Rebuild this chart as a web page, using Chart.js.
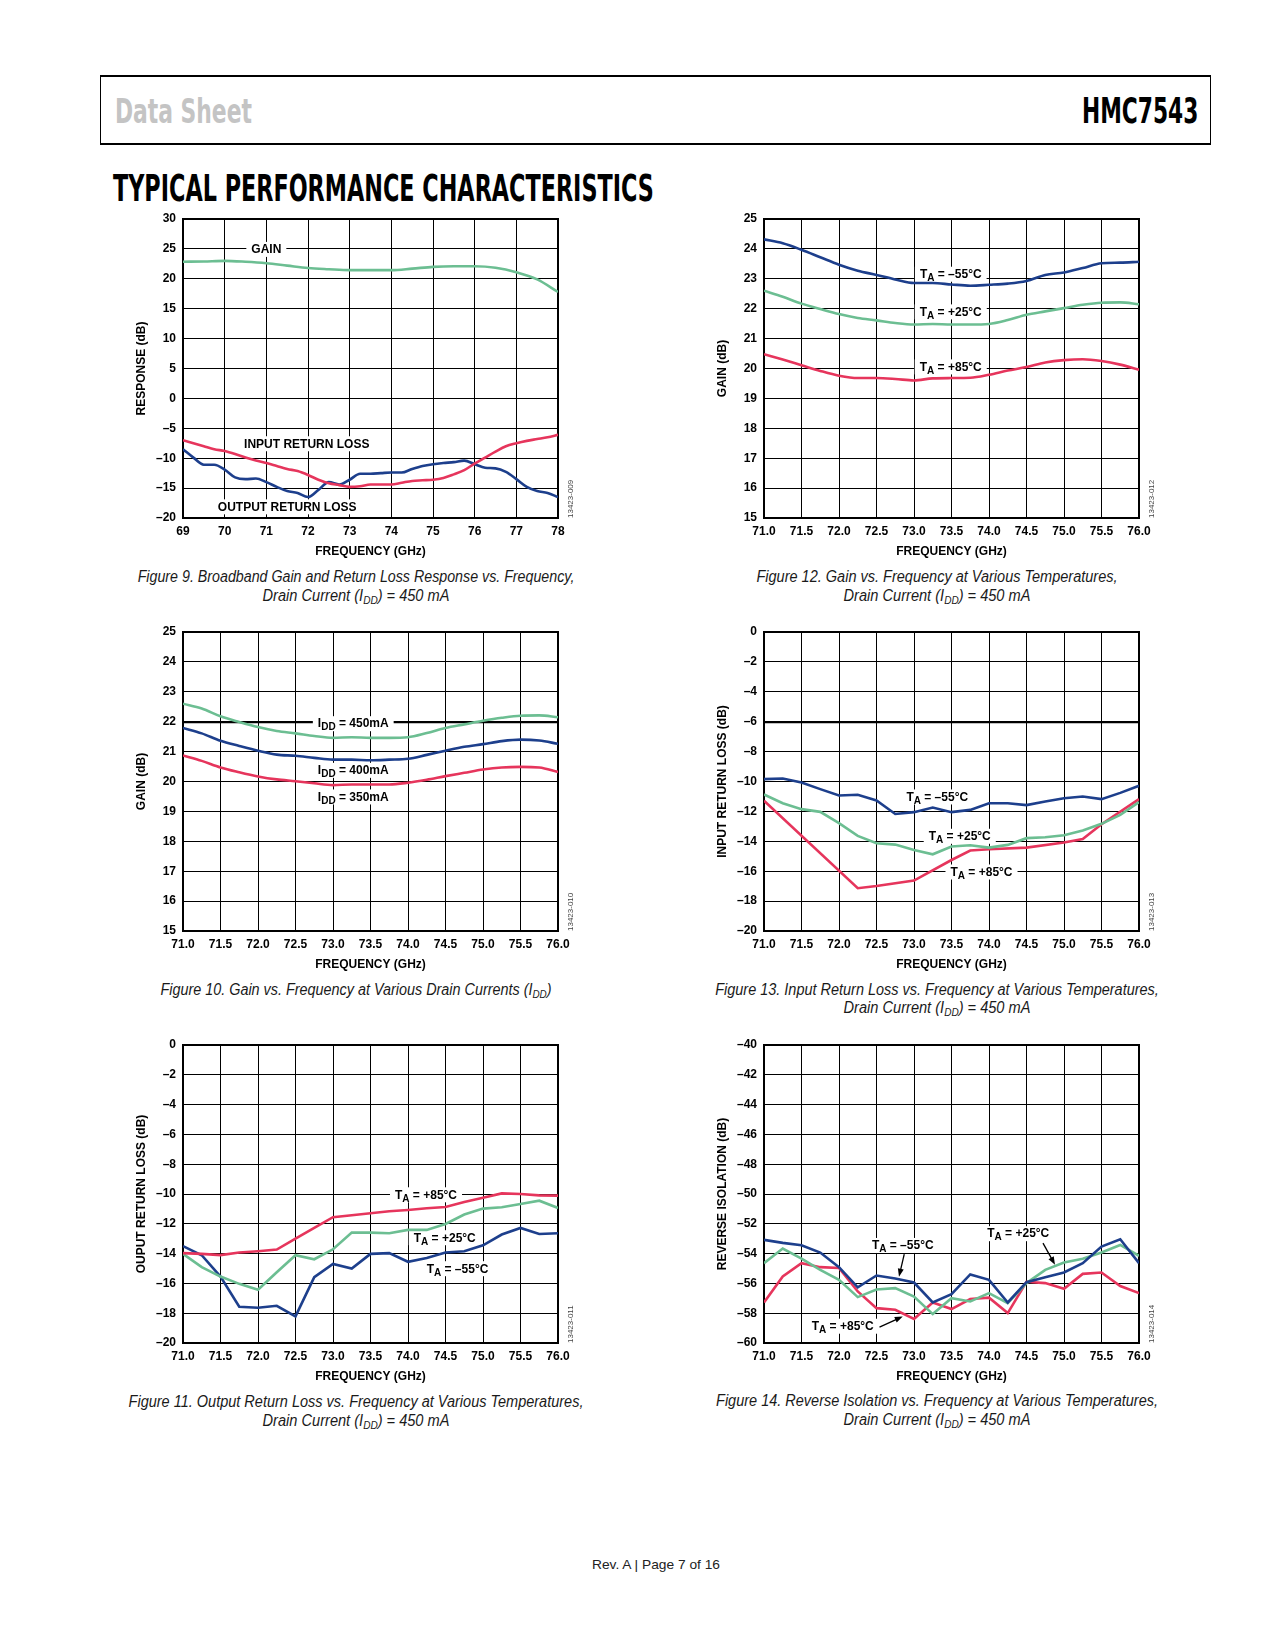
<!DOCTYPE html>
<html>
<head>
<meta charset="utf-8">
<script src="https://cdn.jsdelivr.net/npm/chart.js@4.4.1/dist/chart.umd.min.js"></script>
<style>
body { margin: 0; background: #fff; }
#page { position: relative; width: 1275px; height: 1650px; overflow: hidden; font-family: "Liberation Sans", Arial, sans-serif; }
.abs { position: absolute; white-space: nowrap; line-height: 1; }
canvas { position: absolute; }
#hbox { position: absolute; box-sizing: border-box; left: 100px; top: 75px; width: 1111px; height: 70px;
        border-top: 2px solid #000; border-bottom: 2px solid #000; border-left: 1.5px solid #000; border-right: 1.5px solid #000; }
.head { font-family: "Liberation Sans Narrow", "DejaVu Sans Condensed", "Liberation Sans", sans-serif; font-weight: bold; }
.cap { font-style: italic; font-size: 16px; color: #1a1a1a; }
.cap sub { font-size: 11px; vertical-align: -3px; line-height: 0; }
</style>
</head>
<body>
<div id="page">
  <div id="hbox"></div>
  <div class="abs head" id="hLeft" style="font-size:34px;color:#c4c4c4">Data Sheet</div>
  <div class="abs head" id="hRight" style="font-size:35px;color:#000">HMC7543</div>
  <div class="abs head" id="hTitle" style="font-size:38px;color:#000">TYPICAL PERFORMANCE CHARACTERISTICS</div>
  <div class="abs" id="footer" style="font-size:13px;color:#222">Rev. A | Page 7 of 16</div>
</div>
<script>
const GREEN = '#6cbe92', BLUE = '#1d3f8c', RED = '#e6355c';

// ---- Figure 9: broadband gain / return loss
const fig9XTicks = [69, 70, 71, 72, 73, 74, 75, 76, 77, 78];
const fig9YTicks = [-20, -15, -10, -5, 0, 5, 10, 15, 20, 25, 30];
const fig9Freq = [69, 69.5, 70, 70.5, 71, 71.5, 72, 72.5, 73, 73.5, 74, 74.5, 75, 75.5, 76, 76.5, 77, 77.5, 78];
const fig9Gain = [22.85, 22.9, 23.0, 22.85, 22.6, 22.2, 21.8, 21.6, 21.45, 21.45, 21.45, 21.7, 22.0, 22.1, 22.1, 21.85, 21.1, 19.9, 17.8];
const fig9FreqFine = [69, 69.25, 69.5, 69.75, 70, 70.25, 70.5, 70.75, 71, 71.25, 71.5, 71.75, 72, 72.25, 72.5, 72.75,
  73, 73.25, 73.5, 73.75, 74, 74.25, 74.5, 74.75, 75, 75.25, 75.5, 75.75, 76, 76.25, 76.5, 76.75, 77, 77.25, 77.5, 77.75, 78];
const fig9InputRL = [-7.0, -7.5, -8.0, -8.5, -8.8, -9.3, -9.9, -10.4, -10.8, -11.3, -11.8, -12.15, -12.8, -13.6, -14.2, -14.5,
  -14.8, -14.7, -14.4, -14.4, -14.4, -14.1, -13.8, -13.7, -13.6, -13.3, -12.7, -12.0, -10.9, -9.9, -8.9, -8.0, -7.5, -7.1, -6.8, -6.5, -6.1];
const fig9OutputRL = [-8.5, -9.9, -11.1, -11.1, -11.9, -13.2, -13.5, -13.4, -14.0, -14.8, -15.5, -15.8, -16.5, -15.3, -14.0, -14.4,
  -13.6, -12.6, -12.6, -12.5, -12.4, -12.4, -11.8, -11.3, -11.0, -10.8, -10.65, -10.4, -11.0, -11.6, -11.7, -12.3, -13.5, -14.8, -15.5, -15.8, -16.5];

// ---- shared 71 GHz to 76 GHz sweeps
const tempXTicks = [71, 71.5, 72, 72.5, 73, 73.5, 74, 74.5, 75, 75.5, 76];
const tempFreq = [71, 71.25, 71.5, 71.75, 72, 72.25, 72.5, 72.75, 73, 73.25, 73.5, 73.75, 74, 74.25, 74.5, 74.75, 75, 75.25, 75.5, 75.75, 76];
const gainYTicks = [15, 16, 17, 18, 19, 20, 21, 22, 23, 24, 25];
const rlYTicks = [-20, -18, -16, -14, -12, -10, -8, -6, -4, -2, 0];
const isoYTicks = [-60, -58, -56, -54, -52, -50, -48, -46, -44, -42, -40];

// Figure 12: gain vs temperature
const fig12Cold = [24.32, 24.19, 23.97, 23.72, 23.47, 23.27, 23.13, 22.98, 22.86, 22.86, 22.81, 22.77, 22.80, 22.84, 22.93, 23.13, 23.21, 23.36, 23.52, 23.54, 23.57];
const fig12Room = [22.60, 22.40, 22.17, 21.99, 21.82, 21.69, 21.61, 21.52, 21.47, 21.49, 21.47, 21.47, 21.49, 21.62, 21.80, 21.91, 22.02, 22.13, 22.20, 22.21, 22.15];
const fig12Hot = [20.48, 20.30, 20.11, 19.92, 19.76, 19.68, 19.68, 19.65, 19.60, 19.67, 19.68, 19.69, 19.79, 19.93, 20.05, 20.20, 20.28, 20.31, 20.25, 20.13, 19.96];

// Figure 10: gain vs drain current
const fig10I450 = [22.60, 22.44, 22.18, 21.99, 21.82, 21.69, 21.61, 21.52, 21.46, 21.48, 21.46, 21.46, 21.48, 21.62, 21.79, 21.91, 22.03, 22.13, 22.20, 22.21, 22.15];
const fig10I400 = [21.79, 21.61, 21.36, 21.19, 21.03, 20.90, 20.86, 20.79, 20.73, 20.73, 20.71, 20.73, 20.76, 20.89, 21.03, 21.16, 21.25, 21.35, 21.40, 21.37, 21.26];
const fig10I350 = [20.87, 20.69, 20.47, 20.31, 20.17, 20.07, 20.01, 19.94, 19.88, 19.90, 19.90, 19.90, 19.96, 20.06, 20.18, 20.29, 20.40, 20.47, 20.49, 20.47, 20.32];

// Figure 13: input return loss vs temperature
const fig13Cold = [-9.84, -9.80, -10.07, -10.51, -10.94, -10.89, -11.27, -12.17, -12.05, -11.74, -12.05, -11.90, -11.45, -11.45, -11.58, -11.34, -11.12, -11.00, -11.18, -10.76, -10.29];
const fig13Room = [-10.87, -11.45, -11.85, -12.03, -12.79, -13.64, -14.13, -14.22, -14.58, -14.87, -14.35, -14.26, -14.42, -14.24, -13.79, -13.73, -13.59, -13.28, -12.83, -12.23, -11.38];
const fig13HotFreq = [71.0, 72.25, 72.5, 73.0, 73.5, 73.75, 74.0, 74.5, 75.0, 75.25, 75.5, 76.0];
const fig13Hot = [-11.29, -17.14, -16.99, -16.63, -15.25, -14.62, -14.53, -14.42, -14.08, -13.84, -12.86, -11.18];

// Figure 11: output return loss vs temperature
const fig11Hot = [-13.97, -14.02, -14.10, -13.93, -13.84, -13.73, -12.99, -12.28, -11.56, -11.43, -11.29, -11.16, -11.07, -10.96, -10.87, -10.54, -10.25, -9.96, -10.00, -10.09, -10.11];
const fig11Room = [-14.02, -14.91, -15.54, -16.03, -16.43, -15.25, -14.11, -14.38, -13.71, -12.59, -12.59, -12.63, -12.41, -12.41, -12.01, -11.38, -10.98, -10.89, -10.67, -10.45, -10.94];
const fig11Cold = [-13.50, -14.11, -15.54, -17.57, -17.63, -17.50, -18.21, -15.58, -14.69, -15.00, -14.02, -13.97, -14.55, -14.29, -13.93, -13.84, -13.44, -12.72, -12.28, -12.68, -12.63];

// Figure 14: reverse isolation vs temperature
const fig14Cold = [-53.08, -53.28, -53.44, -53.93, -54.91, -56.27, -55.47, -55.67, -55.94, -57.28, -56.72, -55.40, -55.76, -57.28, -55.92, -55.58, -55.27, -54.64, -53.53, -53.04, -54.64];
const fig14Room = [-54.64, -53.66, -54.33, -55.09, -55.76, -56.92, -56.41, -56.32, -56.88, -58.06, -56.99, -57.21, -56.65, -57.32, -55.98, -55.09, -54.60, -54.35, -53.93, -53.42, -54.15];
const fig14Hot = [-57.28, -55.54, -54.64, -54.91, -54.96, -56.54, -57.66, -57.77, -58.39, -57.28, -57.72, -57.05, -56.96, -57.99, -55.89, -55.98, -56.36, -55.36, -55.27, -56.18, -56.65];

Chart.defaults.font.family = '"Liberation Sans", Arial, sans-serif';

const page = document.getElementById('page');
const LH = 14.4;

function dashNum(v) {
    return v < 0 ? '\u2013' + Math.abs(v) : String(v);
}

function splitNote(text) {
    // "T_{A} = ..." -> parts with subscript flag
    const parts = [];
    const re = /_\{([^}]*)\}/g;
    let last = 0, m;
    while ((m = re.exec(text)) !== null) {
        if (m.index > last) parts.push({ t: text.slice(last, m.index), sub: false });
        parts.push({ t: m[1], sub: true });
        last = re.lastIndex;
    }
    if (last < text.length) parts.push({ t: text.slice(last), sub: false });
    return parts;
}

const MAIN_FONT = 'bold 12px "Liberation Sans", Arial, sans-serif';
const SUB_FONT = 'bold 10px "Liberation Sans", Arial, sans-serif';

function noteWidth(ctx, parts) {
    let w = 0;
    parts.forEach(p => {
        ctx.font = p.sub ? SUB_FONT : MAIN_FONT;
        w += ctx.measureText(p.t).width;
    });
    return w;
}

const notesPlugin = {
    id: 'notes',
    beforeDatasetsDraw(chart, args, opts) {
        const { ctx, chartArea: a, scales } = chart;
        ctx.save();
        ctx.lineWidth = 2;
        ctx.strokeStyle = '#000';
        ctx.strokeRect(a.left, a.top, a.right - a.left, a.bottom - a.top);
        ctx.fillStyle = '#fff';
        (opts.notes || []).forEach(n => {
            const parts = splitNote(n.t);
            const w = noteWidth(ctx, parts);
            const px = scales.x.getPixelForValue(n.x);
            const py = scales.y.getPixelForValue(n.y);
            ctx.fillRect(px - w / 2 - 5, py - 7, w + 10, 15);
        });
        ctx.restore();
    },
    afterDatasetsDraw(chart, args, opts) {
        const { ctx, chartArea: a, scales } = chart;
        ctx.save();
        ctx.fillStyle = '#000';
        ctx.textBaseline = 'alphabetic';
        ctx.textAlign = 'left';
        (opts.notes || []).forEach(n => {
            const parts = splitNote(n.t);
            const w = noteWidth(ctx, parts);
            let px = scales.x.getPixelForValue(n.x) - w / 2;
            const py = scales.y.getPixelForValue(n.y) + 4.3;
            parts.forEach(p => {
                ctx.font = p.sub ? SUB_FONT : MAIN_FONT;
                ctx.fillText(p.t, px, p.sub ? py + 3 : py);
                px += ctx.measureText(p.t).width;
            });
        });
        (opts.arrows || []).forEach(r => {
            const x1 = scales.x.getPixelForValue(r[0]), y1 = scales.y.getPixelForValue(r[1]);
            const x2 = scales.x.getPixelForValue(r[2]), y2 = scales.y.getPixelForValue(r[3]);
            const ang = Math.atan2(y2 - y1, x2 - x1);
            ctx.strokeStyle = '#000';
            ctx.lineWidth = 1.3;
            ctx.beginPath();
            ctx.moveTo(x1, y1);
            ctx.lineTo(x2 - 5 * Math.cos(ang), y2 - 5 * Math.sin(ang));
            ctx.stroke();
            ctx.beginPath();
            ctx.moveTo(x2, y2);
            ctx.lineTo(x2 - 8 * Math.cos(ang) + 3 * Math.sin(ang), y2 - 8 * Math.sin(ang) - 3 * Math.cos(ang));
            ctx.lineTo(x2 - 8 * Math.cos(ang) - 3 * Math.sin(ang), y2 - 8 * Math.sin(ang) + 3 * Math.cos(ang));
            ctx.closePath();
            ctx.fill();
        });
        if (opts.code) {
            ctx.translate(a.right + 13, a.bottom);
            ctx.rotate(-Math.PI / 2);
            ctx.font = '8px "Liberation Sans", Arial, sans-serif';
            ctx.fillStyle = '#444';
            ctx.textBaseline = 'middle';
            ctx.fillText(opts.code, 0, 0);
        }
        ctx.restore();
    }
};

function makeChart(o) {
    const c = document.createElement('canvas');
    c.width = o.box.w;
    c.height = o.box.h;
    c.style.left = o.box.x + 'px';
    c.style.top = o.box.y + 'px';
    c.style.width = o.box.w + 'px';
    c.style.height = o.box.h + 'px';
    page.appendChild(c);

    const tickFont = { size: 12, weight: 'bold' };

    new Chart(c, {
        type: 'line',
        data: {
            datasets: o.series.map(s => ({
                data: s.freq.map((f, i) => ({ x: f, y: s.values[i] })),
                borderColor: s.color,
                borderWidth: 2.6,
                pointRadius: 0,
                fill: false,
                tension: o.smooth ? 0.4 : 0,
                cubicInterpolationMode: o.smooth ? 'monotone' : 'default'
            }))
        },
        options: {
            responsive: false,
            animation: false,
            devicePixelRatio: 1,
            layout: { padding: { left: 0, top: o.plot.t - o.box.y, right: o.box.x + o.box.w - o.plot.r, bottom: 0 } },
            plugins: {
                legend: { display: false },
                tooltip: { enabled: false },
                notes: { notes: o.notes, arrows: o.arrows, code: o.code }
            },
            scales: {
                x: {
                    type: 'linear',
                    min: o.xTicks[0],
                    max: o.xTicks[o.xTicks.length - 1],
                    afterBuildTicks: s => { s.ticks = o.xTicks.map(v => ({ value: v })); },
                    afterFit: s => { s.height = o.box.y + o.box.h - o.plot.b; s.paddingLeft = 0; s.paddingRight = 0; },
                    grid: { color: '#000', lineWidth: 1, drawTicks: false },
                    border: { display: false },
                    ticks: { padding: 14 - LH / 2, color: '#000', font: tickFont, maxRotation: 0, autoSkip: false, callback: v => o.xFmt(v) },
                    title: { display: true, text: 'FREQUENCY (GHz)', color: '#000', font: tickFont,
                             padding: { top: 0, bottom: o.box.h - LH / 2 - (o.plot.b + 33.5 - o.box.y) } }
                },
                y: {
                    type: 'linear',
                    min: o.yTicks[0],
                    max: o.yTicks[o.yTicks.length - 1],
                    afterBuildTicks: s => { s.ticks = o.yTicks.map(v => ({ value: v })); },
                    afterFit: s => { s.width = o.plot.l - o.box.x; s.paddingTop = 0; s.paddingBottom = 0; },
                    grid: { color: '#000', lineWidth: ctx => (ctx.tick && ctx.tick.value === o.thick ? 2.2 : 1), drawTicks: false },
                    border: { display: false },
                    ticks: { padding: 7, color: '#000', font: tickFont, autoSkip: false, callback: v => dashNum(v) },
                    title: { display: true, text: o.yTitle, color: '#000', font: tickFont,
                             padding: { top: o.plot.l - 41 - o.box.x - LH / 2, bottom: 0 } }
                }
            }
        },
        plugins: [notesPlugin]
    });
}

const LEFT = { x: 110, w: 480, l: 183, r: 558 };
const RIGHT = { x: 690, w: 480, l: 764, r: 1139 };
const ROWS = [{ y: 200, h: 360, t: 219, b: 518 }, { y: 612, h: 362, t: 632, b: 931 }, { y: 1025, h: 365, t: 1045, b: 1343 }];

function place(col, row) {
    return { box: { x: col.x, y: row.y, w: col.w, h: row.h }, plot: { l: col.l, r: col.r, t: row.t, b: row.b } };
}

const fix1 = v => Number(v).toFixed(1);
const TA = s => 'T_{A} = ' + s;

makeChart(Object.assign(place(LEFT, ROWS[0]), {
    xTicks: fig9XTicks, yTicks: fig9YTicks, xFmt: v => String(v), yTitle: 'RESPONSE (dB)', smooth: true, code: '13423-009',
    series: [
        { freq: fig9Freq, values: fig9Gain, color: GREEN },
        { freq: fig9FreqFine, values: fig9InputRL, color: RED },
        { freq: fig9FreqFine, values: fig9OutputRL, color: BLUE }
    ],
    notes: [{ x: 71.0, y: 25, t: 'GAIN' }, { x: 71.97, y: -7.5, t: 'INPUT RETURN LOSS' }, { x: 71.5, y: -18.05, t: 'OUTPUT RETURN LOSS' }]
}));

makeChart(Object.assign(place(RIGHT, ROWS[0]), {
    xTicks: tempXTicks, yTicks: gainYTicks, xFmt: fix1, yTitle: 'GAIN (dB)', smooth: true, code: '13423-012',
    series: [
        { freq: tempFreq, values: fig12Cold, color: BLUE },
        { freq: tempFreq, values: fig12Room, color: GREEN },
        { freq: tempFreq, values: fig12Hot, color: RED }
    ],
    notes: [{ x: 73.49, y: 23.17, t: TA('\u201355°C') }, { x: 73.49, y: 21.91, t: TA('+25°C') }, { x: 73.49, y: 20.07, t: TA('+85°C') }]
}));

makeChart(Object.assign(place(LEFT, ROWS[1]), {
    xTicks: tempXTicks, yTicks: gainYTicks, xFmt: fix1, yTitle: 'GAIN (dB)', smooth: true, code: '13423-010', thick: 22,
    series: [
        { freq: tempFreq, values: fig10I450, color: GREEN },
        { freq: tempFreq, values: fig10I400, color: BLUE },
        { freq: tempFreq, values: fig10I350, color: RED }
    ],
    notes: [{ x: 73.27, y: 21.95, t: 'I_{DD} = 450mA' }, { x: 73.27, y: 20.39, t: 'I_{DD} = 400mA' }, { x: 73.27, y: 19.5, t: 'I_{DD} = 350mA' }]
}));

makeChart(Object.assign(place(RIGHT, ROWS[1]), {
    xTicks: tempXTicks, yTicks: rlYTicks, xFmt: fix1, yTitle: 'INPUT RETURN LOSS (dB)', smooth: false, code: '13423-013', thick: -6,
    series: [
        { freq: tempFreq, values: fig13Cold, color: BLUE },
        { freq: tempFreq, values: fig13Room, color: GREEN },
        { freq: fig13HotFreq, values: fig13Hot, color: RED }
    ],
    notes: [{ x: 73.31, y: -11.0, t: TA('\u201355°C') }, { x: 73.61, y: -13.63, t: TA('+25°C') }, { x: 73.9, y: -16.02, t: TA('+85°C') }]
}));

makeChart(Object.assign(place(LEFT, ROWS[2]), {
    xTicks: tempXTicks, yTicks: rlYTicks, xFmt: fix1, yTitle: 'OUPUT RETURN LOSS (dB)', smooth: false, code: '13423-011',
    series: [
        { freq: tempFreq, values: fig11Hot, color: RED },
        { freq: tempFreq, values: fig11Room, color: GREEN },
        { freq: tempFreq, values: fig11Cold, color: BLUE }
    ],
    notes: [{ x: 74.24, y: -10.02, t: TA('+85°C') }, { x: 74.49, y: -12.9, t: TA('+25°C') }, { x: 74.66, y: -14.98, t: TA('\u201355°C') }]
}));

makeChart(Object.assign(place(RIGHT, ROWS[2]), {
    xTicks: tempXTicks, yTicks: isoYTicks, xFmt: fix1, yTitle: 'REVERSE ISOLATION (dB)', smooth: false, code: '13423-014',
    series: [
        { freq: tempFreq, values: fig14Cold, color: BLUE },
        { freq: tempFreq, values: fig14Room, color: GREEN },
        { freq: tempFreq, values: fig14Hot, color: RED }
    ],
    notes: [{ x: 72.85, y: -53.42, t: TA('\u201355°C') }, { x: 74.39, y: -52.63, t: TA('+25°C') }, { x: 72.05, y: -58.84, t: TA('+85°C') }],
    arrows: [[72.87, -54.03, 72.8, -55.55], [74.72, -53.3, 74.88, -54.75], [72.54, -58.93, 72.85, -58.22]]
}));

// ---- captions and page text
const IDD = 'Drain Current (I<sub>DD</sub>) = 450 mA';
const captions = [
    [356, 576.5, 437, 'Figure 9. Broadband Gain and Return Loss Response vs. Frequency,'],
    [356, 595.5, 187, IDD],
    [937, 576.5, 361, 'Figure 12. Gain vs. Frequency at Various Temperatures,'],
    [937, 595.5, 187, IDD],
    [356, 990, 391, 'Figure 10. Gain vs. Frequency at Various Drain Currents (I<sub>DD</sub>)'],
    [937, 990, 444, 'Figure 13. Input Return Loss vs. Frequency at Various Temperatures,'],
    [937, 1008, 187, IDD],
    [356, 1401.5, 455, 'Figure 11. Output Return Loss vs. Frequency at Various Temperatures,'],
    [356, 1421, 187, IDD],
    [937, 1401, 442, 'Figure 14. Reverse Isolation vs. Frequency at Various Temperatures,'],
    [937, 1420, 187, IDD]
];

function fitCenter(el, cx, cy, w) {
    el.style.left = cx + 'px';
    el.style.top = cy + 'px';
    const s = w / el.offsetWidth;
    el.style.transformOrigin = '50% 50%';
    el.style.transform = 'translate(-50%, -50%) scaleX(' + s + ')';
}

function fitLeft(el, x, cy, w) {
    el.style.left = x + 'px';
    el.style.top = cy + 'px';
    const s = w / el.offsetWidth;
    el.style.transformOrigin = '0 50%';
    el.style.transform = 'translateY(-50%) scaleX(' + s + ')';
}

captions.forEach(c => {
    const el = document.createElement('div');
    el.className = 'abs cap';
    el.innerHTML = c[3];
    page.appendChild(el);
    fitCenter(el, c[0], c[1], c[2]);
});

fitLeft(document.getElementById('hLeft'), 115, 110.5, 137);
fitLeft(document.getElementById('hRight'), 1082, 110.8, 116);
fitLeft(document.getElementById('hTitle'), 112.5, 188, 541);
fitCenter(document.getElementById('footer'), 656, 1564, 128);
</script>
</body>
</html>
